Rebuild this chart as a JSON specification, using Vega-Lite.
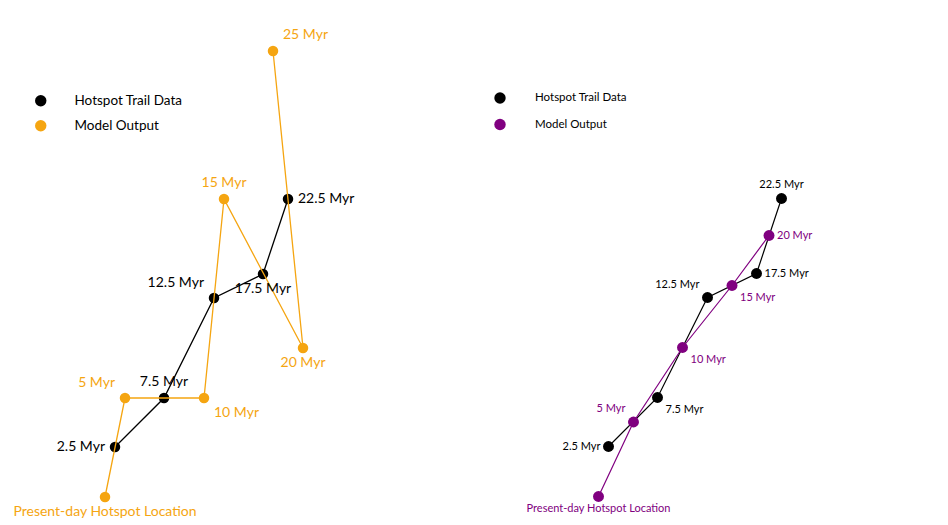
{
  "$schema": "https://vega.github.io/schema/vega-lite/v6.json",
  "padding": 0,
  "spacing": 0,
  "background": "white",
  "config": {
    "view": {"stroke": null},
    "text": {"font": "Lato"},
    "legend": {"padding": 0, "title": null, "labelFont": "Lato", "labelColor": "black", "symbolStrokeWidth": 0, "symbolType": "circle", "symbolOpacity": 1}
  },
  "datasets": {
    "left": [
      {"series": "Hotspot Trail Data", "age": 2.5, "label": "2.5 Myr", "x": 11.5, "y": 7.8},
      {"series": "Hotspot Trail Data", "age": 7.5, "label": "7.5 Myr", "x": 16.4, "y": 12.7},
      {"series": "Hotspot Trail Data", "age": 12.5, "label": "12.5 Myr", "x": 21.4, "y": 22.7},
      {"series": "Hotspot Trail Data", "age": 17.5, "label": "17.5 Myr", "x": 26.3, "y": 25.1},
      {"series": "Hotspot Trail Data", "age": 22.5, "label": "22.5 Myr", "x": 28.8, "y": 32.6},
      {"series": "Model Output", "age": 0, "label": "Present-day Hotspot Location", "x": 10.5, "y": 2.8},
      {"series": "Model Output", "age": 5, "label": "5 Myr", "x": 12.5, "y": 12.7},
      {"series": "Model Output", "age": 10, "label": "10 Myr", "x": 20.4, "y": 12.7},
      {"series": "Model Output", "age": 15, "label": "15 Myr", "x": 22.4, "y": 32.6},
      {"series": "Model Output", "age": 20, "label": "20 Myr", "x": 30.3, "y": 17.7},
      {"series": "Model Output", "age": 25, "label": "25 Myr", "x": 27.3, "y": 47.4}
    ],
    "right": [
      {"series": "Hotspot Trail Data", "age": 2.5, "label": "2.5 Myr", "x": 11.5, "y": 7.8},
      {"series": "Hotspot Trail Data", "age": 7.5, "label": "7.5 Myr", "x": 16.4, "y": 12.7},
      {"series": "Hotspot Trail Data", "age": 12.5, "label": "12.5 Myr", "x": 21.4, "y": 22.7},
      {"series": "Hotspot Trail Data", "age": 17.5, "label": "17.5 Myr", "x": 26.3, "y": 25.1},
      {"series": "Hotspot Trail Data", "age": 22.5, "label": "22.5 Myr", "x": 28.8, "y": 32.6},
      {"series": "Model Output", "age": 0, "label": "Present-day Hotspot Location", "x": 10.5, "y": 2.8},
      {"series": "Model Output", "age": 5, "label": "5 Myr", "x": 14.0, "y": 10.25},
      {"series": "Model Output", "age": 10, "label": "10 Myr", "x": 18.9, "y": 17.7},
      {"series": "Model Output", "age": 15, "label": "15 Myr", "x": 23.85, "y": 23.9},
      {"series": "Model Output", "age": 20, "label": "20 Myr", "x": 27.55, "y": 28.9}
    ]
  },
  "resolve": {"scale": {"color": "independent"}, "legend": {"color": "independent"}},
  "hconcat": [
    {
      "width": 474,
      "height": 525,
      "data": {"name": "left"},
      "encoding": {
        "x": {"field": "x", "type": "quantitative", "scale": {"domain": [0, 47.4], "nice": false, "zero": false}, "axis": null},
        "y": {"field": "y", "type": "quantitative", "scale": {"domain": [0, 52.5], "nice": false, "zero": false}, "axis": null}
      },
      "layer": [
        {
          "transform": [{"filter": "datum.series == 'Hotspot Trail Data'"}],
          "mark": {"type": "line", "color": "black", "strokeWidth": 1.3, "clip": false},
          "encoding": {"order": {"field": "age", "type": "quantitative"}}
        },
        {
          "transform": [{"filter": "datum.series == 'Hotspot Trail Data'"}],
          "mark": {"type": "point", "filled": true, "opacity": 1, "size": 110, "shape": "circle"},
          "encoding": {
            "color": {"field": "series", "type": "nominal", "scale": {"domain": ["Hotspot Trail Data", "Model Output"], "range": ["black", "#F5A511"]},
              "legend": {"orient": "none", "legendX": 34, "legendY": 94, "labelFontSize": 13.5, "symbolSize": 130, "rowPadding": 10, "labelOffset": 27, "direction": "vertical"}}
          }
        },
        {
          "transform": [{"filter": "datum.series == 'Model Output'"}],
          "mark": {"type": "line", "color": "#F5A511", "strokeWidth": 1.3, "clip": false},
          "encoding": {"order": {"field": "age", "type": "quantitative"}}
        },
        {
          "transform": [{"filter": "datum.series == 'Model Output'"}],
          "mark": {"type": "point", "filled": true, "opacity": 1, "size": 110, "shape": "circle"},
          "encoding": {"color": {"field": "series", "type": "nominal"}}
        },
        {
          "transform": [{"filter": "indexof([22.5], datum.age) >= 0"}],
          "mark": {"type": "text", "align": "left", "baseline": "middle", "dx": 10, "dy": 0, "fontSize": 14},
          "encoding": {"text": {"field": "label"}, "color": {"condition": {"test": "datum.series == 'Model Output'", "value": "#F5A511"}, "value": "black"}}
        },
        {
          "transform": [{"filter": "indexof([12.5, 5], datum.age) >= 0"}],
          "mark": {"type": "text", "align": "right", "baseline": "middle", "dx": -10, "dy": -15.5, "fontSize": 14},
          "encoding": {"text": {"field": "label"}, "color": {"condition": {"test": "datum.series == 'Model Output'", "value": "#F5A511"}, "value": "black"}}
        },
        {
          "transform": [{"filter": "indexof([17.5, 20, 0], datum.age) >= 0"}],
          "mark": {"type": "text", "align": "center", "baseline": "middle", "dx": 0, "dy": 15, "fontSize": 14},
          "encoding": {"text": {"field": "label"}, "color": {"condition": {"test": "datum.series == 'Model Output'", "value": "#F5A511"}, "value": "black"}}
        },
        {
          "transform": [{"filter": "indexof([7.5, 15], datum.age) >= 0"}],
          "mark": {"type": "text", "align": "center", "baseline": "middle", "dx": 0, "dy": -16, "fontSize": 14},
          "encoding": {"text": {"field": "label"}, "color": {"condition": {"test": "datum.series == 'Model Output'", "value": "#F5A511"}, "value": "black"}}
        },
        {
          "transform": [{"filter": "indexof([2.5], datum.age) >= 0"}],
          "mark": {"type": "text", "align": "right", "baseline": "middle", "dx": -10, "dy": 0, "fontSize": 14},
          "encoding": {"text": {"field": "label"}, "color": {"condition": {"test": "datum.series == 'Model Output'", "value": "#F5A511"}, "value": "black"}}
        },
        {
          "transform": [{"filter": "indexof([25], datum.age) >= 0"}],
          "mark": {"type": "text", "align": "left", "baseline": "middle", "dx": 10, "dy": -16, "fontSize": 14},
          "encoding": {"text": {"field": "label"}, "color": {"condition": {"test": "datum.series == 'Model Output'", "value": "#F5A511"}, "value": "black"}}
        },
        {
          "transform": [{"filter": "indexof([10], datum.age) >= 0"}],
          "mark": {"type": "text", "align": "left", "baseline": "middle", "dx": 10, "dy": 15, "fontSize": 14},
          "encoding": {"text": {"field": "label"}, "color": {"condition": {"test": "datum.series == 'Model Output'", "value": "#F5A511"}, "value": "black"}}
        }
      ]
    },
    {
      "width": 474,
      "height": 525,
      "data": {"name": "right"},
      "encoding": {
        "x": {"field": "x", "type": "quantitative", "scale": {"domain": [-1.95, 45.45], "nice": false, "zero": false}, "axis": null},
        "y": {"field": "y", "type": "quantitative", "scale": {"domain": [-0.05, 52.45], "nice": false, "zero": false}, "axis": null}
      },
      "layer": [
        {
          "transform": [{"filter": "datum.series == 'Hotspot Trail Data'"}],
          "mark": {"type": "line", "color": "black", "strokeWidth": 1.2, "clip": false},
          "encoding": {"order": {"field": "age", "type": "quantitative"}}
        },
        {
          "transform": [{"filter": "datum.series == 'Hotspot Trail Data'"}],
          "mark": {"type": "point", "filled": true, "opacity": 1, "size": 120, "shape": "circle"},
          "encoding": {
            "color": {"field": "series", "type": "nominal", "scale": {"domain": ["Hotspot Trail Data", "Model Output"], "range": ["black", "#800080"]},
              "legend": {"orient": "none", "legendX": 20, "legendY": 92, "labelFontSize": 11.5, "symbolSize": 130, "rowPadding": 14.5, "labelOffset": 29, "direction": "vertical"}}
          }
        },
        {
          "transform": [{"filter": "datum.series == 'Model Output'"}],
          "mark": {"type": "line", "color": "#800080", "strokeWidth": 1.2, "clip": false},
          "encoding": {"order": {"field": "age", "type": "quantitative"}}
        },
        {
          "transform": [{"filter": "datum.series == 'Model Output'"}],
          "mark": {"type": "point", "filled": true, "opacity": 1, "size": 120, "shape": "circle"},
          "encoding": {"color": {"field": "series", "type": "nominal"}}
        },
        {
          "transform": [{"filter": "indexof([22.5], datum.age) >= 0"}],
          "mark": {"type": "text", "align": "center", "baseline": "middle", "dx": 0, "dy": -13.5, "fontSize": 11},
          "encoding": {"text": {"field": "label"}, "color": {"condition": {"test": "datum.series == 'Model Output'", "value": "#800080"}, "value": "black"}}
        },
        {
          "transform": [{"filter": "indexof([20, 17.5], datum.age) >= 0"}],
          "mark": {"type": "text", "align": "left", "baseline": "middle", "dx": 8, "dy": 0, "fontSize": 11},
          "encoding": {"text": {"field": "label"}, "color": {"condition": {"test": "datum.series == 'Model Output'", "value": "#800080"}, "value": "black"}}
        },
        {
          "transform": [{"filter": "indexof([12.5, 5], datum.age) >= 0"}],
          "mark": {"type": "text", "align": "right", "baseline": "middle", "dx": -8, "dy": -13, "fontSize": 11},
          "encoding": {"text": {"field": "label"}, "color": {"condition": {"test": "datum.series == 'Model Output'", "value": "#800080"}, "value": "black"}}
        },
        {
          "transform": [{"filter": "indexof([15, 10, 7.5], datum.age) >= 0"}],
          "mark": {"type": "text", "align": "left", "baseline": "middle", "dx": 8, "dy": 12, "fontSize": 11},
          "encoding": {"text": {"field": "label"}, "color": {"condition": {"test": "datum.series == 'Model Output'", "value": "#800080"}, "value": "black"}}
        },
        {
          "transform": [{"filter": "indexof([2.5], datum.age) >= 0"}],
          "mark": {"type": "text", "align": "right", "baseline": "middle", "dx": -8, "dy": 0, "fontSize": 11},
          "encoding": {"text": {"field": "label"}, "color": {"condition": {"test": "datum.series == 'Model Output'", "value": "#800080"}, "value": "black"}}
        },
        {
          "transform": [{"filter": "indexof([0], datum.age) >= 0"}],
          "mark": {"type": "text", "align": "center", "baseline": "middle", "dx": 0, "dy": 12, "fontSize": 11},
          "encoding": {"text": {"field": "label"}, "color": {"condition": {"test": "datum.series == 'Model Output'", "value": "#800080"}, "value": "black"}}
        }
      ]
    }
  ]
}
